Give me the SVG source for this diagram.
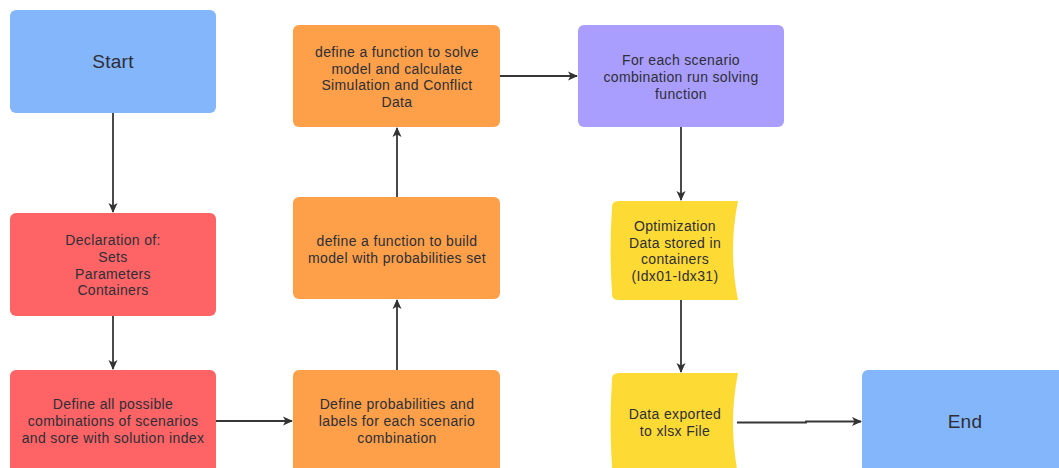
<svg xmlns="http://www.w3.org/2000/svg" width="1059" height="468" viewBox="0 0 1059 468">
<defs>
<marker id="ah" viewBox="0 0 10 10" refX="9" refY="5" markerWidth="10" markerHeight="10" markerUnits="userSpaceOnUse" orient="auto">
<path d="M0,0.5 L10,5 L0,9.5 L2.5,5 Z" fill="#333"/>
</marker>
<style>
.t{font-family:"Liberation Sans",Arial,sans-serif;font-size:14px;letter-spacing:0.35px;fill:#2e2e38;text-anchor:middle}
.big{font-size:19px;letter-spacing:0.3px}
.blue{fill:#84b6fc}
.red{fill:#fe6465}
.orange{fill:#fda049}
.purple{fill:#a99efd}
.yellow{fill:#fedb34}
.c{stroke:#363636;stroke-width:1.8;fill:none;marker-end:url(#ah)}
</style>
</defs>
<rect width="1059" height="468" fill="#ffffff"/>
<g id="start"><rect class="blue" x="10" y="10" width="206" height="103" rx="6"/><text class="t big" x="113" y="68">Start</text></g>
<g id="declaration"><rect class="red" x="10" y="213" width="206" height="103" rx="6"/>
<text class="t" x="113" y="245">Declaration of:</text><text class="t" x="113" y="262">Sets</text><text class="t" x="113" y="278.5">Parameters</text><text class="t" x="113" y="295">Containers</text></g>
<g id="combinations"><rect class="red" x="10" y="370" width="206" height="104" rx="6"/>
<text class="t" x="113" y="409">Define all possible</text><text class="t" x="113" y="426">combinations of scenarios</text><text class="t" x="113" y="443">and sore with solution index</text></g>
<g id="probabilities"><rect class="orange" x="293" y="370" width="207" height="104" rx="6"/>
<text class="t" x="397" y="408.5">Define probabilities and</text><text class="t" x="397" y="425.5">labels for each scenario</text><text class="t" x="397" y="442.5">combination</text></g>
<g id="build"><rect class="orange" x="293" y="197" width="207" height="102" rx="6"/>
<text class="t" x="397" y="246">define a function to build</text><text class="t" x="397" y="263">model with probabilities set</text></g>
<g id="solve"><rect class="orange" x="293" y="25" width="207" height="102" rx="6"/>
<text class="t" x="397" y="57">define a function to solve</text><text class="t" x="397" y="73.5">model and calculate</text><text class="t" x="397" y="90">Simulation and Conflict</text><text class="t" x="397" y="106.5">Data</text></g>
<g id="run"><rect class="purple" x="578" y="25" width="206" height="102" rx="6"/>
<text class="t" x="681" y="65">For each scenario</text><text class="t" x="681" y="82">combination run solving</text><text class="t" x="681" y="98.5">function</text></g>
<g id="stored"><path class="yellow" d="M619,201 H738 Q728,250 738,300 H619 Q611,300 612,292 Q609,250 612,209 Q611,201 619,201 Z"/>
<text class="t" x="675" y="231">Optimization</text><text class="t" x="675" y="247.5">Data stored in</text><text class="t" x="675" y="264">containers</text><text class="t" x="675" y="280.5">(Idx01-Idx31)</text></g>
<g id="exported"><path class="yellow" d="M619,373 H738 Q728,423 738,474 H619 Q611,474 612,466 Q609,423 612,381 Q611,373 619,373 Z"/>
<text class="t" x="675" y="419">Data exported</text><text class="t" x="675" y="436">to xlsx File</text></g>
<g id="end"><rect class="blue" x="862" y="370" width="203" height="104" rx="6"/><text class="t big" x="965" y="428">End</text></g>
<g id="connectors">
<path class="c" d="M113,113 V212"/>
<path class="c" d="M113,316 V369"/>
<path class="c" d="M216,421 H292"/>
<path class="c" d="M397,370 V300"/>
<path class="c" d="M397,197 V128"/>
<path class="c" d="M500,76 H577"/>
<path class="c" d="M681,127 V200"/>
<path class="c" d="M681,300 V372"/>
<path class="c" d="M737,422.5 H806 V421.5 H861"/>
</g>
</svg>
